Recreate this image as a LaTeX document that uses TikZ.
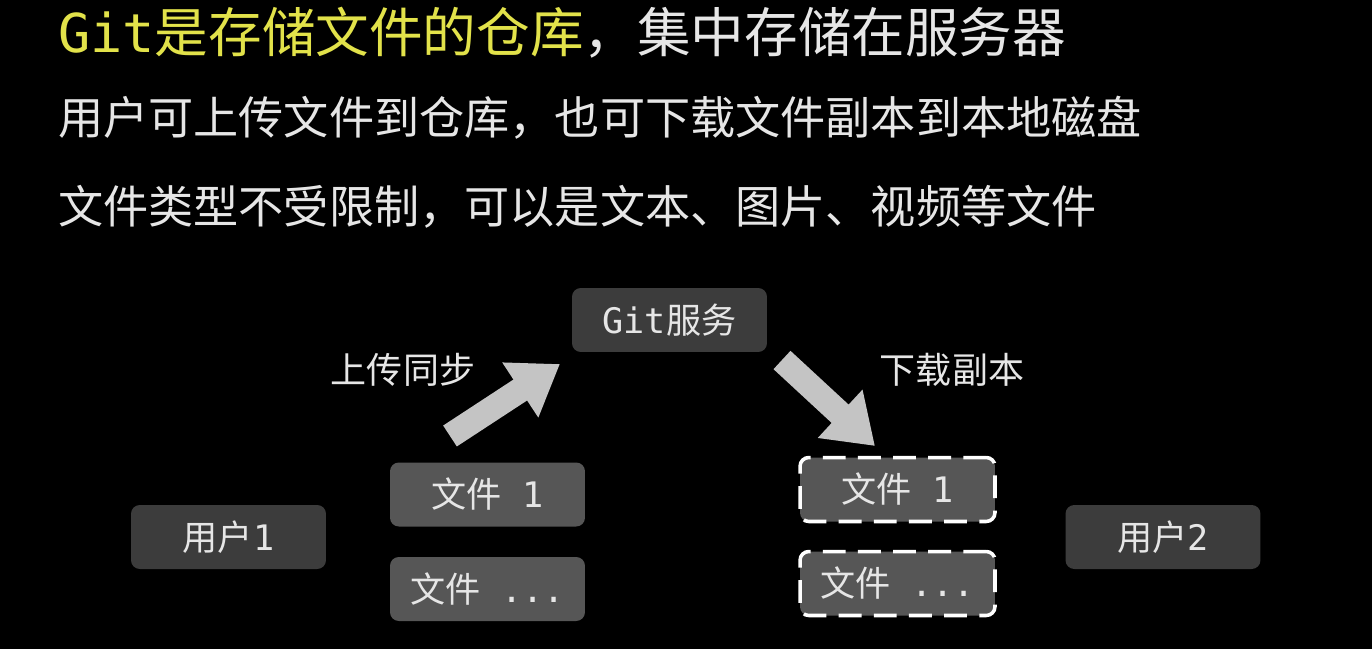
\documentclass[tikz,border=0pt]{standalone}
\usepackage{fontspec}
\setmainfont{Noto Sans CJK SC}
\newfontfamily\latinmono{DejaVu Sans Mono}
\usetikzlibrary{arrows.meta,positioning}
\definecolor{titleyellow}{HTML}{E2E24A}
\definecolor{textgray}{HTML}{E6E6E6}
\definecolor{boxdark}{HTML}{3C3C3C}
\definecolor{boxfile}{HTML}{565656}
\definecolor{arrowgray}{HTML}{C4C4C4}

\tikzset{
  box/.style={rounded corners=5pt, minimum width=3.9cm, minimum height=1.28cm, text=textgray, font=\fontsize{20}{20}\selectfont},
  serverbox/.style={box, fill=boxdark},
  filebox/.style={box, fill=boxfile},
  copybox/.style={box, fill=boxfile, draw=white, line width=2pt, dash pattern=on 13pt off 7pt, minimum width=3.9cm},
  bigarrow/.style={arrowgray, line width=0.5cm, -{Triangle[length=0.95cm,width=1.25cm]}},
  line/.style={anchor=west, text=textgray, font=\fontsize{25.7}{26}\selectfont},
  tag/.style={text=textgray, font=\fontsize{20.5}{21}\selectfont}
}

\begin{document}
\begin{tikzpicture}[x=0.02cm, y=-0.02cm]
  \fill[black] (0,0) rectangle (1372,649);

  % Heading lines
  \node[line, font=\fontsize{30.5}{31}\selectfont] (title) at (52,33)
    {\textcolor{titleyellow}{{\latinmono Git}是存储文件的仓库}，集中存储在服务器};
  \node[line] (upload) at (52,118) {用户可上传文件到仓库，也可下载文件副本到本地磁盘};
  \node[line] (types) at (52,207) {文件类型不受限制，可以是文本、图片、视频等文件};

  % Boxes
  \node[serverbox] (git) at (669.5,320) {{\latinmono Git}服务};
  \node[serverbox] (user1) at (228.5,537) {用户{\latinmono 1}};
  \node[serverbox] (user2) at (1163,537) {用户{\latinmono 2}};
  \node[filebox] (file1) at (487.5,494.5) {文件{\latinmono\ 1}};
  \node[filebox] (filen) at (487.5,589) {文件{\latinmono\ ...}};
  \node[copybox] (copy1) at (897.5,489.5) {文件{\latinmono\ 1}};
  \node[copybox] (copyn) at (897.5,583.5) {文件{\latinmono\ ...}};

  % Arrows
  \coordinate (upfrom) at (450,436);
  \coordinate (upto) at (560,364);
  \coordinate (downfrom) at (782,360);
  \coordinate (downto) at (875,446);
  \draw[bigarrow] (upfrom) -- (upto);
  \draw[bigarrow] (downfrom) -- (downto);

  % Labels
  \node[tag] (sync) at (403,370) {上传同步};
  \node[tag] (fetch) at (952,370) {下载副本};
\end{tikzpicture}
\end{document}
